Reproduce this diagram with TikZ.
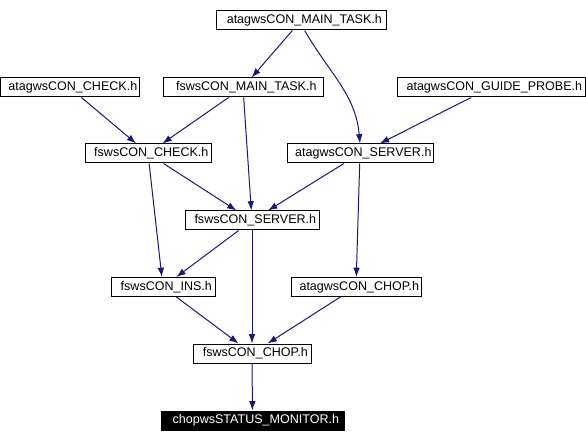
\documentclass[tikz,border=0pt]{standalone}
\usepackage{fontspec}
\setmainfont{Liberation Sans}
\usetikzlibrary{arrows.meta,positioning}
\definecolor{Edge}{HTML}{191970}
\tikzset{
  file/.style={draw=black,fill=white,line width=0.75pt,minimum height=14.25pt,inner sep=0pt,font=\fontsize{9.4}{11}\selectfont,execute at begin node={\hspace*{5pt}}},
  current/.style={file,fill=black,text=white},
  dep/.style={-{Latex[length=7pt,width=5pt]},draw=Edge,line width=0.75pt}
}
\begin{document}
\begin{tikzpicture}[x=0.75pt,y=-0.75pt]
  \useasboundingbox (0,0) rectangle (586,442);
  % top row
  \node[file,minimum width=127.5pt] (amtask) at (301,20.5) {atagwsCON\_MAIN\_TASK.h};
  % second row
  \node[file,minimum width=104.25pt] (acheck) at (69.5,87.5) {atagwsCON\_CHECK.h};
  \node[file,minimum width=120pt] (fmtask) at (243,87.5) {fswsCON\_MAIN\_TASK.h};
  \node[file,minimum width=141pt] (aguide) at (491,87.5) {atagwsCON\_GUIDE\_PROBE.h};
  % third row
  \node[file,minimum width=94.5pt] (fcheck) at (148,153.5) {fswsCON\_CHECK.h};
  \node[file,minimum width=109.5pt] (aserver) at (360,153.5) {atagwsCON\_SERVER.h};
  \node[file,minimum width=100.5pt] (fserver) at (252,220.5) {fswsCON\_SERVER.h};
  % lower rows
  \node[file,minimum width=78pt] (fins) at (163,287) {fswsCON\_INS.h};
  \node[file,minimum width=97.5pt] (achop) at (356,287) {atagwsCON\_CHOP.h};
  \node[file,minimum width=88.5pt] (fchop) at (252,353.5) {fswsCON\_CHOP.h};
  \node[current,minimum width=137.25pt] (status) at (252.5,420.5) {chopwsSTATUS\_MONITOR.h};
  % includes
  \draw[dep] (amtask) -- (fmtask);
  \draw[dep] (amtask.290) to[out=-60,in=95] (aserver.north);
  \draw[dep] (acheck) -- (fcheck);
  \draw[dep] (fmtask) -- (fcheck);
  \draw[dep] (fmtask) -- (fserver);
  \draw[dep] (aguide) -- (aserver);
  \draw[dep] (fcheck) -- (fserver);
  \draw[dep] (fcheck) -- (fins);
  \draw[dep] (aserver) -- (fserver);
  \draw[dep] (aserver) -- (achop);
  \draw[dep] (fserver) -- (fins);
  \draw[dep] (fserver) -- (fchop);
  \draw[dep] (fins) -- (fchop);
  \draw[dep] (achop) -- (fchop);
  \draw[dep] (fchop) -- (status);
\end{tikzpicture}
\end{document}
